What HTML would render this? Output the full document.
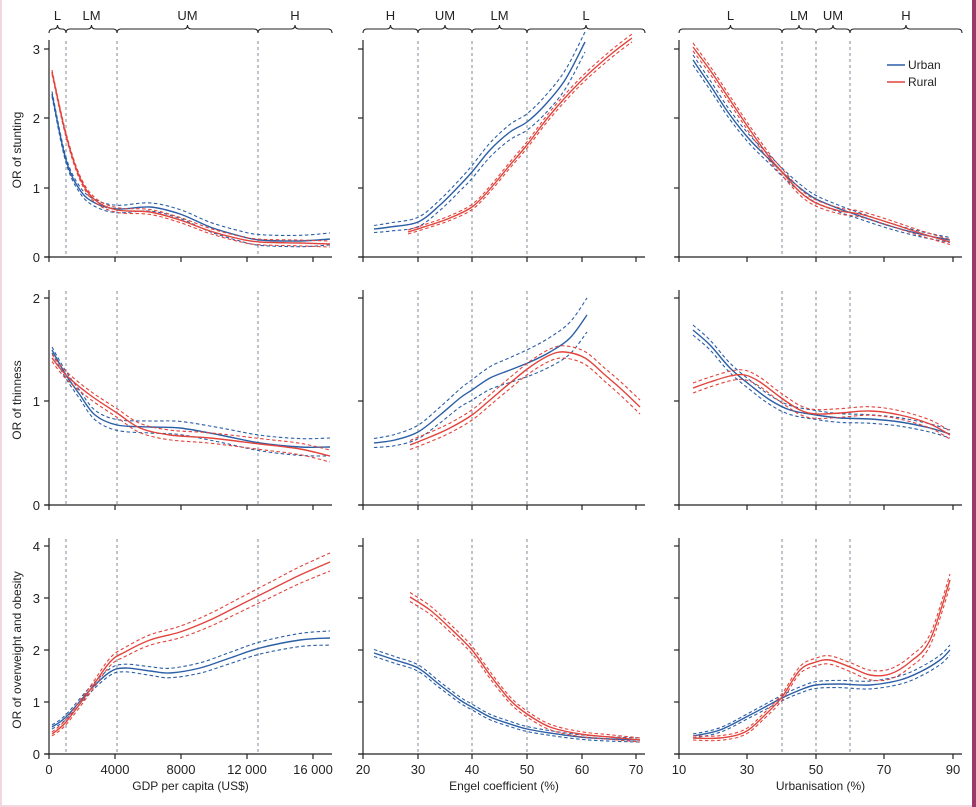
<!DOCTYPE html>
<html><head><meta charset="utf-8"><style>
html,body{margin:0;padding:0;background:#fff}
svg{display:block;font-family:"Liberation Sans","DejaVu Sans",sans-serif}
</style></head><body>
<svg id="s" width="976" height="807" viewBox="0 0 976 807" xmlns="http://www.w3.org/2000/svg">
<rect x="0" y="0" width="2" height="807" fill="#f3d6e0"/>
<rect x="0" y="805" width="976" height="2" fill="#f3d6e0"/>
<rect x="972" y="0" width="4" height="807" fill="#9b3a6a"/>
<g id="g"></g>
</svg>
<script>
const NS="http://www.w3.org/2000/svg",G=document.getElementById('g');
function el(t,a,txt){const e=document.createElementNS(NS,t);for(const k in a)e.setAttribute(k,a[k]);if(txt!==undefined)e.textContent=txt;G.appendChild(e);return e;}
function path(pts){let d="M"+pts[0][0]+","+pts[0][1];for(let i=0;i<pts.length-1;i++){const p0=pts[i-1]||pts[i],p1=pts[i],p2=pts[i+1],p3=pts[i+2]||p2;
const c1=[p1[0]+(p2[0]-p0[0])/6,p1[1]+(p2[1]-p0[1])/6],c2=[p2[0]-(p3[0]-p1[0])/6,p2[1]-(p3[1]-p1[1])/6];
d+=` C${c1[0].toFixed(1)},${c1[1].toFixed(1)} ${c2[0].toFixed(1)},${c2[1].toFixed(1)} ${p2[0]},${p2[1]}`;}return d;}
const BL="#2b5fa6",RD="#e2443c";
function series(pts,col,w0,w1){const n=pts.length;
el('path',{d:path(pts),fill:"none",stroke:col,"stroke-width":1.4});
for(const s of[-1,1]){const q=pts.map((p,i)=>[p[0],p[1]+s*(w0+(w1-w0)*i/(n-1))]);
el('path',{d:path(q),fill:"none",stroke:col,"stroke-width":1.1,"stroke-dasharray":"3.5,2.5"});}}
const cols=[{x0:49,x1:332},{x0:363,x1:645},{x0:679,x1:962}];
const rows=[{y0:257,top:40,ticks:[[0,257],[1,188],[2,118],[3,49]]},{y0:505,top:290,ticks:[[0,505],[1,401],[2,298]]},{y0:754,top:538,ticks:[[0,754],[1,702],[2,650],[3,598],[4,546]]}];
const xt=[[[0,49],[4000,115],[8000,181],["12 000",247],["16 000",313]],[[20,363],[30,418],[40,472],[50,527],[60,582],[70,636]],[[10,679],[30,747],[50,816],[70,884],[90,953]]];
const vl=[[66,117,258],[418,472,527],[782,816,850]];
const xl=["GDP per capita (US$)","Engel coefficient (%)","Urbanisation (%)"];
const yl=["OR of stunting","OR of thinness","OR of overweight and obesity"];
rows.forEach((r,ri)=>cols.forEach((c,ci)=>{
 vl[ci].forEach(x=>el('line',{x1:x,x2:x,y1:r.top+1,y2:r.y0,stroke:"#7f8a96","stroke-width":1,"stroke-dasharray":"3,3"}));
 el('line',{x1:c.x0,x2:c.x0,y1:r.top,y2:r.y0,stroke:"#222","stroke-width":1.2});
 el('line',{x1:c.x0-4,x2:c.x1,y1:r.y0,y2:r.y0,stroke:"#222","stroke-width":1.2});
 r.ticks.forEach(t=>{el('line',{x1:c.x0-5,x2:c.x0,y1:t[1],y2:t[1],stroke:"#222","stroke-width":1.2});
  if(ci==0)el('text',{x:c.x0-9,y:t[1]+5,"text-anchor":"end","font-size":13,fill:"#222"},t[0]);});
 xt[ci].forEach(t=>{el('line',{x1:t[1],x2:t[1],y1:r.y0,y2:r.y0+5,stroke:"#222","stroke-width":1.2});
  if(ri==2)el('text',{x:t[1],y:r.y0+20,"text-anchor":"middle","font-size":13,fill:"#222"},t[0]);});
 if(ri==2)el('text',{x:(c.x0+c.x1)/2,y:790,"text-anchor":"middle","font-size":12,fill:"#222"},xl[ci]);
}));
yl.forEach((t,i)=>{const cy=[150,400,650][i];el('text',{x:0,y:0,transform:`translate(21,${cy}) rotate(-90)`,"text-anchor":"middle","font-size":12,fill:"#222"},t);});
const br=[[[49,66,"L"],[66,117,"LM"],[117,258,"UM"],[258,332,"H"]],[[363,418,"H"],[418,472,"UM"],[472,527,"LM"],[527,645,"L"]],[[679,782,"L"],[782,816,"LM"],[816,850,"UM"],[850,962,"H"]]];
br.forEach(b=>b.forEach(([a,z,l])=>{const m=(a+z)/2;
 el('path',{d:`M${a},33 q0,-4 4,-4 L${m-4},29 q4,0 4,-4 q0,4 4,4 L${z-4},29 q4,0 4,4`,fill:"none",stroke:"#222","stroke-width":1.1});
 el('text',{x:m,y:20,"text-anchor":"middle","font-size":13,fill:"#222"},l);}));
el('line',{x1:887,x2:905,y1:65,y2:65,stroke:BL,"stroke-width":1.5});
el('line',{x1:887,x2:905,y1:82,y2:82,stroke:RD,"stroke-width":1.5});
el('text',{x:908,y:69,"font-size":12,fill:"#222"},"Urban");
el('text',{x:908,y:86,"font-size":12,fill:"#222"},"Rural");
// Row1
series([[52,94],[66,160],[80,190],[95,203],[117,209],[150,207],[180,214],[210,227],[240,236],[260,240],[300,241],[330,239]],BL,2.5,6);
series([[52,72],[66,135],[80,178],[95,200],[117,210],[150,212],[180,220],[210,231],[240,239],[260,242],[300,243],[330,244]],RD,2,3);
series([[374,229],[390,227],[418,222],[440,205],[460,185],[472,172],[490,150],[510,132],[527,122],[545,105],[565,80],[585,42]],BL,3.5,10);
series([[408,232],[430,225],[450,218],[472,207],[490,189],[510,165],[527,145],[550,115],[580,82],[610,55],[632,38]],RD,2,4);
series([[693,60],[710,85],[730,115],[750,140],[770,160],[782,172],[800,188],[816,199],[840,209],[860,216],[890,226],[920,234],[950,240]],BL,5,2.5);
series([[693,47],[710,70],[730,100],[750,130],[770,158],[782,172],[800,192],[816,203],[840,211],[860,214],[890,223],[920,233],[950,242]],RD,4,2.5);
// Row2
series([[52,350],[66,375],[80,395],[95,415],[117,425],[150,427],[180,428],[220,435],[260,443],[300,447],[330,447]],BL,3,9);
series([[52,358],[66,375],[90,395],[117,413],[140,428],[170,435],[210,438],[260,444],[300,449],[330,456]],RD,3.5,6);
series([[374,443],[395,440],[418,432],[440,415],[460,398],[472,390],[490,378],[510,370],[530,362],[550,352],[570,338],[587,315]],BL,4.5,17);
series([[410,445],[430,437],[450,428],[472,415],[490,400],[510,383],[530,367],[550,355],[565,352],[585,358],[605,375],[620,388],[640,407]],RD,4.5,7);
series([[693,330],[710,345],[730,368],[750,385],[770,400],[790,410],[816,415],[840,418],[870,419],[900,422],[930,428],[950,434]],BL,5,4);
series([[693,388],[710,382],[730,376],[745,375],[760,382],[780,397],[800,410],[816,414],[840,413],[870,411],[900,415],[930,424],[950,435]],RD,5,4);
// Row3
series([[52,727],[66,717],[90,690],[110,672],[125,668],[150,671],[170,673],[200,668],[230,658],[260,648],[300,640],[330,638]],BL,2,7);
series([[52,734],[66,722],[90,690],[110,662],[125,652],[150,640],[180,632],[210,620],[240,605],[270,590],[300,575],[330,562]],RD,2,9);
series([[374,653],[395,660],[418,668],[440,685],[460,700],[472,707],[490,717],[510,724],[527,729],[550,733],[580,737],[610,739],[640,740]],BL,3.5,2);
series([[410,597],[430,610],[450,628],[472,650],[490,675],[510,700],[527,714],[550,727],[580,734],[610,737],[640,740]],RD,4.5,2);
series([[693,736],[720,730],[750,715],[782,698],[800,690],[816,685],[840,684],[870,685],[900,680],[920,672],[940,660],[950,650]],BL,2,5);
series([[693,738],[720,738],[745,732],[765,715],[782,697],[800,670],[816,662],[830,660],[850,667],[870,675],[890,674],[910,662],[930,640],[950,580]],RD,2,6);
</script>
</body></html>
